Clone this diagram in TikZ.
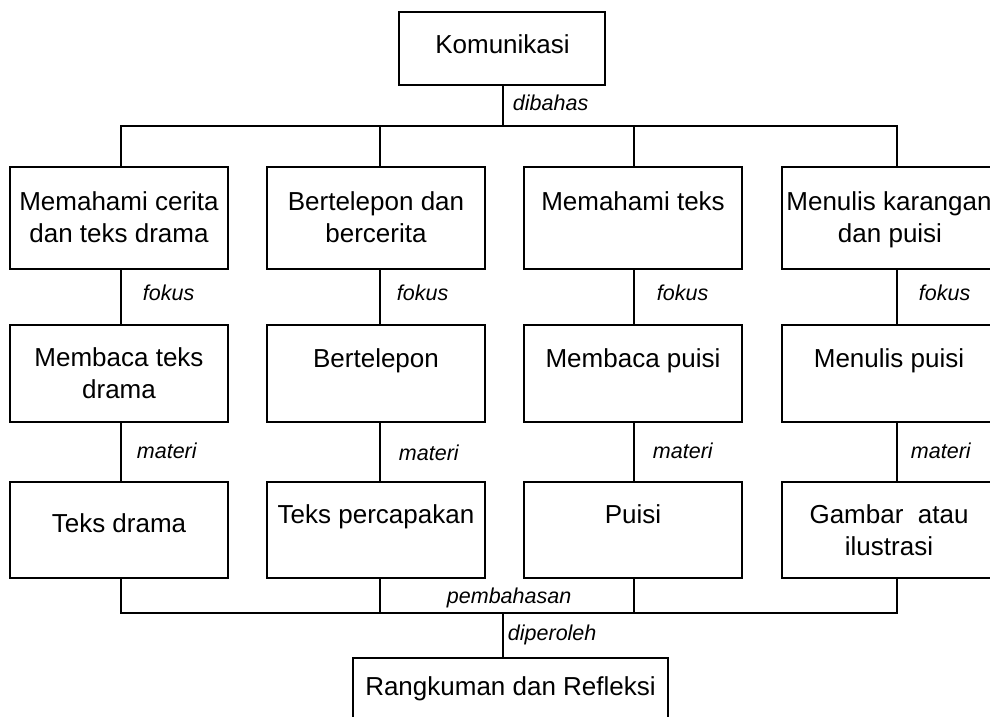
\documentclass[tikz,border=0pt]{standalone}
\usepackage{fontspec}
\setmainfont{Liberation Sans}
\begin{document}
\begin{tikzpicture}[x=1pt,y=-1pt,
  line width=1.9pt,
  box/.style={draw, rectangle, inner sep=0pt, minimum width=218pt},
  btext/.style={anchor=base, inner sep=0pt, font=\fontsize{26}{30}\selectfont},
  rel/.style={anchor=base west, inner sep=0pt, font=\itshape\fontsize{21.5}{25}\selectfont}]
\useasboundingbox (0,0) rectangle (990,717);

% column stem positions and bars
\coordinate (c1) at (121,0);
\coordinate (c2) at (380,0);
\coordinate (c3) at (634,0);
\coordinate (c4) at (897,0);
\coordinate (topbar) at (503,126);
\coordinate (botbar) at (503,613);

% boxes
\node[box, minimum width=206pt, minimum height=73pt] (kom) at (502,48.5) {};
\foreach \n/\x in {1/119,2/376,3/633,4/891}{
  \node[box, minimum height=102pt] (r1c\n) at (\x,218) {};
  \node[box, minimum height=97pt] (r2c\n) at (\x,373.5) {};
  \node[box, minimum height=96pt] (r3c\n) at (\x,530) {};
}
\node[box, minimum width=315pt, minimum height=80pt] (rr) at (510.5,698) {};

% texts
\node[btext] (tkom) at (502.5,53) {Komunikasi};
\node[btext] (t11a) at (119,210) {Memahami cerita};
\node[btext] (t11b) at (119,242) {dan teks drama};
\node[btext] (t12a) at (376,210) {Bertelepon dan};
\node[btext] (t12b) at (376,242) {bercerita};
\node[btext] (t13a) at (633,210) {Memahami teks};
\node[btext] (t14a) at (889,210) {Menulis karangan};
\node[btext] (t14b) at (890,242) {dan puisi};
\node[btext] (t21a) at (119,366) {Membaca teks};
\node[btext] (t21b) at (119,398) {drama};
\node[btext] (t22a) at (376,367) {Bertelepon};
\node[btext] (t23a) at (633,367) {Membaca puisi};
\node[btext] (t24a) at (889,367) {Menulis puisi};
\node[btext] (t31a) at (119,532) {Teks drama};
\node[btext] (t32a) at (376,523) {Teks percapakan};
\node[btext] (t33a) at (633,523) {Puisi};
\node[btext] (t34a) at (889,523) {Gambar\ \ atau};
\node[btext] (t34b) at (889,555) {ilustrasi};
\node[btext] (trr) at (510.5,695) {Rangkuman dan Refleksi};

% connectors: top
\draw (kom.south -| topbar) -- (topbar);
\draw (r1c1.north -| c1) -- (c1 |- topbar) -- (c4 |- topbar) -- (r1c4.north -| c4);
\draw (r1c2.north -| c2) -- (c2 |- topbar);
\draw (r1c3.north -| c3) -- (c3 |- topbar);

% connectors between rows
\foreach \n in {1,2,3,4}{
  \draw (r1c\n.south -| c\n) -- (r2c\n.north -| c\n);
  \draw (r2c\n.south -| c\n) -- (r3c\n.north -| c\n);
}

% connectors: bottom
\draw (r3c1.south -| c1) -- (c1 |- botbar) -- (c4 |- botbar) -- (r3c4.south -| c4);
\draw (r3c2.south -| c2) -- (c2 |- botbar);
\draw (r3c3.south -| c3) -- (c3 |- botbar);
\draw (botbar) -- (rr.north -| botbar);

% relation labels
\node[rel] (ldib) at (512,110) {dibahas};
\node[rel] (lf1) at (142,300) {fokus};
\node[rel] (lf2) at (396,300) {fokus};
\node[rel] (lf3) at (656,300) {fokus};
\node[rel] (lf4) at (918,300) {fokus};
\node[rel] (lm1) at (136,458) {materi};
\node[rel] (lm2) at (398,460) {materi};
\node[rel] (lm3) at (652,458) {materi};
\node[rel] (lm4) at (910,458) {materi};
\node[rel] (lpem) at (446,603) {pembahasan};
\node[rel] (ldip) at (507,640) {diperoleh};
\end{tikzpicture}
\end{document}
